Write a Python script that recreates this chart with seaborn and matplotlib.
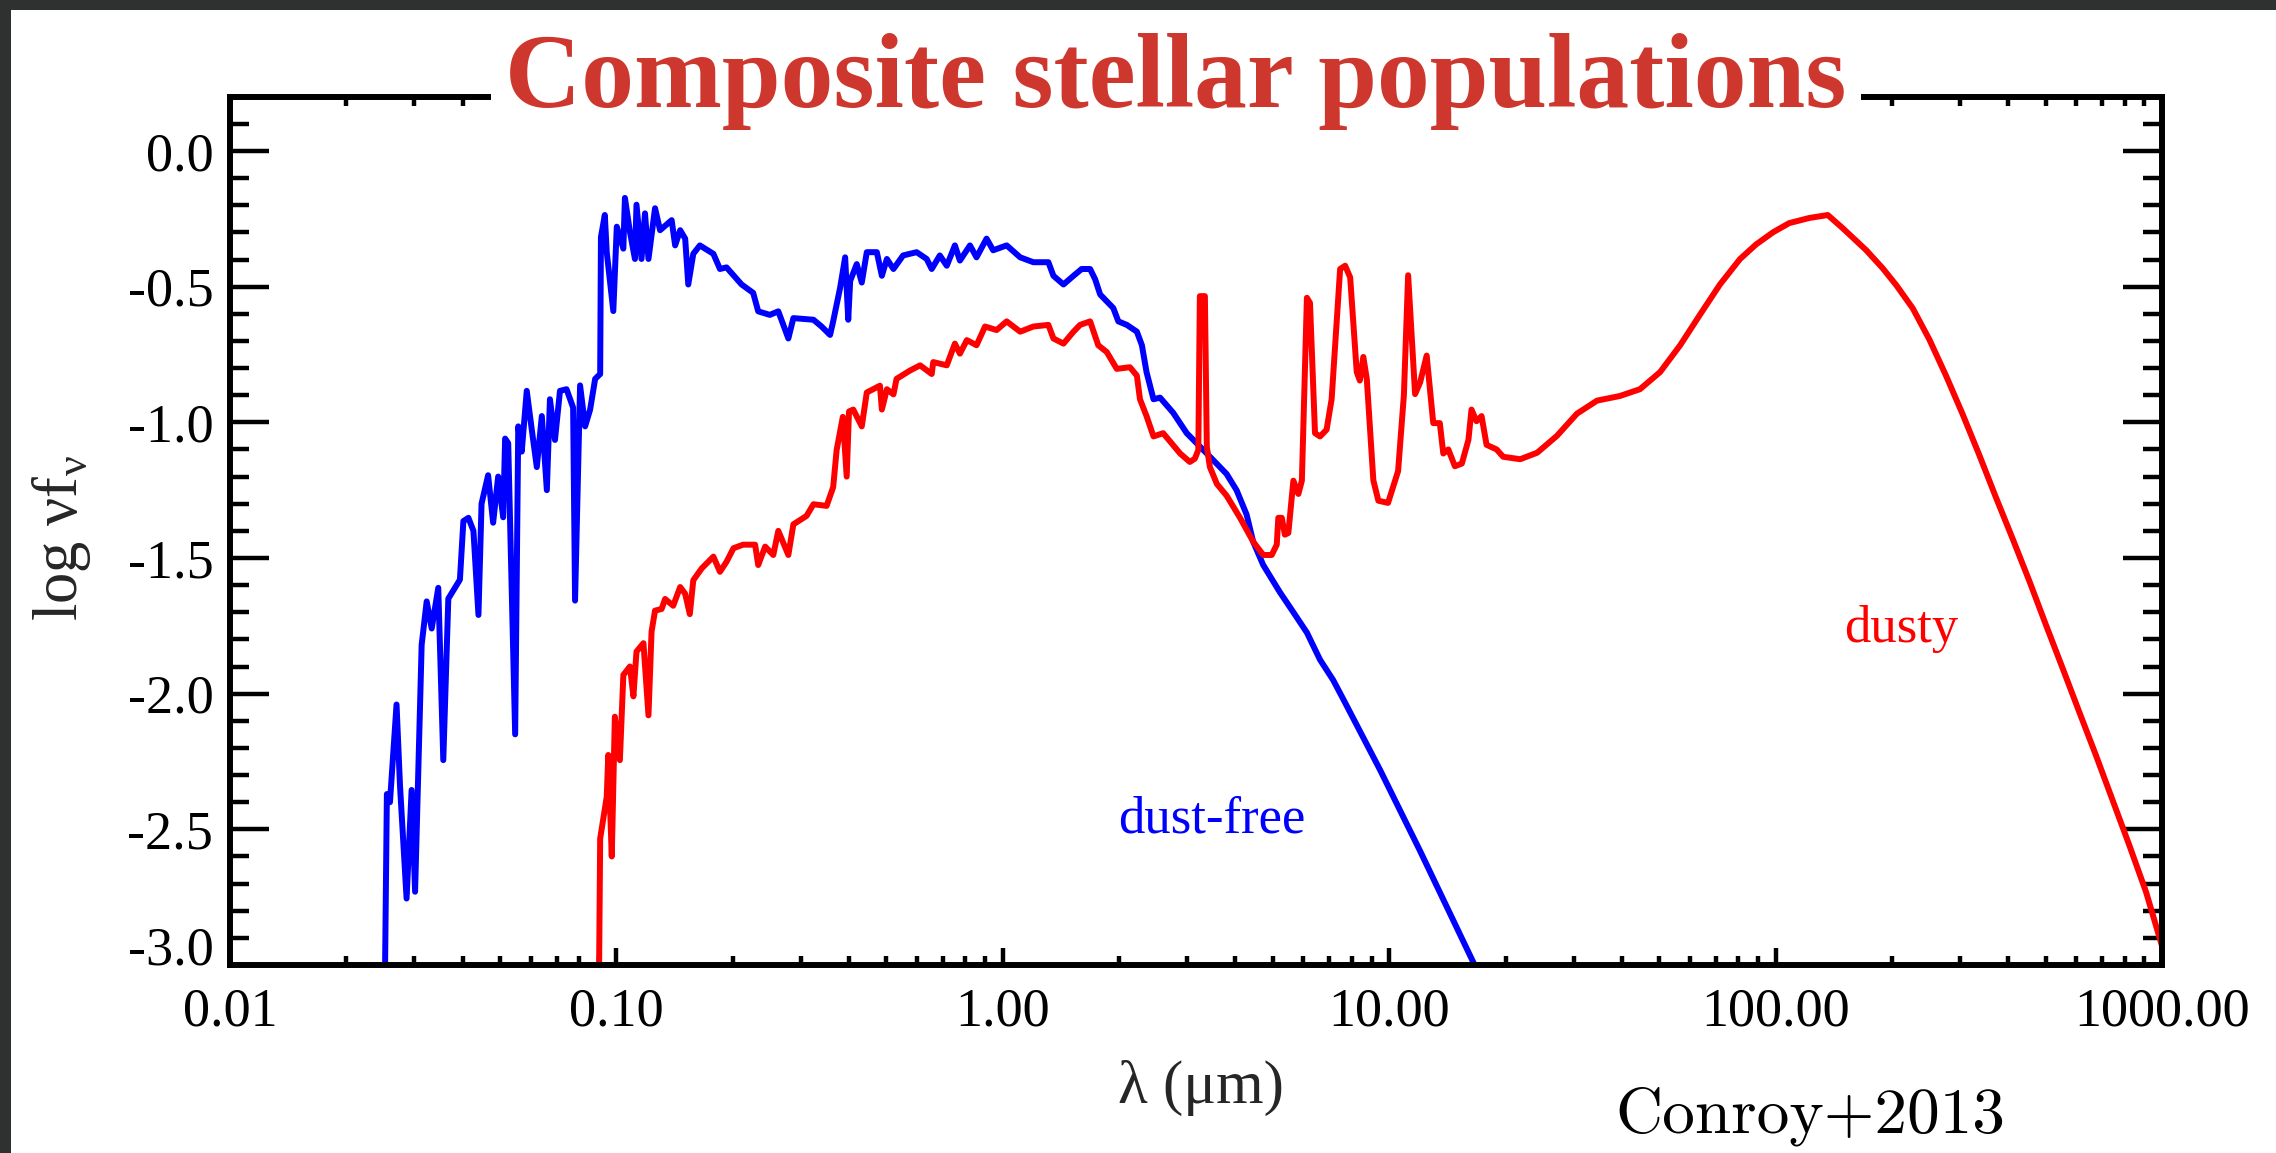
import numpy as np
import pandas as pd
import matplotlib
matplotlib.use("Agg")
import matplotlib.pyplot as plt
from matplotlib.patches import Rectangle
from matplotlib.ticker import LogLocator, MultipleLocator, NullFormatter
from matplotlib.transforms import ScaledTranslation
import seaborn as sns

# ---- spectra: log10(wavelength / um) and log(nu f_nu) ----
log_wave_dustfree = [
    -1.599, -1.594, -1.586, -1.569, -1.560, -1.543, -1.530, -1.521, -1.504, -1.491,
    -1.478, -1.461, -1.448, -1.435, -1.405, -1.396, -1.383, -1.370, -1.357, -1.349,
    -1.332, -1.319, -1.306, -1.293, -1.288, -1.280, -1.262, -1.254, -1.245, -1.232,
    -1.219, -1.206, -1.193, -1.180, -1.172, -1.159, -1.146, -1.129, -1.112, -1.107,
    -1.094, -1.081, -1.068, -1.055, -1.042, -1.040, -1.030, -1.025, -1.008, -0.999,
    -0.982, -0.978, -0.965, -0.952, -0.948, -0.935, -0.926, -0.917, -0.900, -0.887,
    -0.857, -0.848, -0.835, -0.822, -0.814, -0.801, -0.784, -0.749, -0.732, -0.715,
    -0.676, -0.646, -0.633, -0.603, -0.581, -0.555, -0.542, -0.490, -0.469, -0.447,
    -0.439, -0.421, -0.408, -0.400, -0.395, -0.378, -0.365, -0.352, -0.326, -0.313,
    -0.300, -0.283, -0.258, -0.223, -0.197, -0.184, -0.163, -0.145, -0.124, -0.111,
    -0.085, -0.068, -0.042, -0.025, 0.010, 0.045, 0.079, 0.118, 0.131, 0.157,
    0.183, 0.204, 0.226, 0.239, 0.252, 0.286, 0.299, 0.321, 0.347, 0.360,
    0.372, 0.390, 0.407, 0.441, 0.476, 0.528, 0.579, 0.605, 0.631, 0.648,
    0.674, 0.717, 0.752, 0.787, 0.821, 0.855, 0.881, 0.976, 1.080, 1.221, 1.240,
]
logf_dustfree = [
    -3.05, -2.37, -2.40, -2.04, -2.34, -2.755, -2.355, -2.73, -1.82, -1.66,
    -1.76, -1.61, -2.245, -1.65, -1.58, -1.364, -1.352, -1.40, -1.71, -1.30,
    -1.195, -1.37, -1.20, -1.35, -1.06, -1.077, -2.15, -1.015, -1.108, -0.884,
    -1.027, -1.165, -0.977, -1.25, -0.915, -1.065, -0.884, -0.878, -0.946, -1.657,
    -0.864, -1.015, -0.953, -0.84, -0.822, -0.317, -0.236, -0.373, -0.59, -0.279,
    -0.36, -0.173, -0.298, -0.398, -0.198, -0.398, -0.23, -0.398, -0.211, -0.292,
    -0.255, -0.348, -0.292, -0.323, -0.492, -0.379, -0.348, -0.379, -0.435, -0.429,
    -0.492, -0.523, -0.591, -0.604, -0.591, -0.691, -0.616, -0.622, -0.647, -0.678,
    -0.628, -0.504, -0.392, -0.622, -0.479, -0.417, -0.485, -0.373, -0.373, -0.46,
    -0.398, -0.435, -0.385, -0.373, -0.398, -0.435, -0.385, -0.423, -0.348, -0.404,
    -0.348, -0.392, -0.323, -0.366, -0.348, -0.392, -0.41, -0.41, -0.46, -0.492,
    -0.46, -0.435, -0.435, -0.473, -0.529, -0.579, -0.628, -0.641, -0.666, -0.716,
    -0.815, -0.915, -0.909, -0.965, -1.04, -1.115, -1.19, -1.25, -1.34, -1.44,
    -1.526, -1.626, -1.70, -1.775, -1.875, -1.95, -2.02, -2.28, -2.58, -3.0, -3.06,
]

log_wave_dusty = [
    -1.045, -1.042, -1.025, -1.021, -1.012, -1.004, -0.991, -0.982, -0.965, -0.956,
    -0.948, -0.930, -0.917, -0.909, -0.900, -0.883, -0.874, -0.853, -0.835, -0.822,
    -0.810, -0.801, -0.779, -0.749, -0.732, -0.715, -0.697, -0.672, -0.641, -0.633,
    -0.615, -0.594, -0.581, -0.555, -0.542, -0.508, -0.490, -0.456, -0.439, -0.430,
    -0.414, -0.404, -0.398, -0.387, -0.365, -0.352, -0.318, -0.313, -0.300, -0.283,
    -0.275, -0.240, -0.214, -0.184, -0.180, -0.145, -0.124, -0.111, -0.093, -0.068,
    -0.046, -0.016, 0.010, 0.045, 0.079, 0.118, 0.131, 0.157, 0.183, 0.200,
    0.226, 0.247, 0.269, 0.295, 0.329, 0.347, 0.355, 0.372, 0.390, 0.415,
    0.459, 0.484, 0.497, 0.506, 0.510, 0.523, 0.528, 0.536, 0.554, 0.579,
    0.614, 0.648, 0.674, 0.696, 0.709, 0.713, 0.722, 0.730, 0.739, 0.752,
    0.765, 0.774, 0.787, 0.795, 0.808, 0.821, 0.838, 0.851, 0.864, 0.873,
    0.886, 0.899, 0.916, 0.924, 0.933, 0.942, 0.959, 0.972, 0.997, 1.023,
    1.038, 1.049, 1.067, 1.080, 1.097, 1.114, 1.131, 1.140, 1.153, 1.170,
    1.188, 1.205, 1.213, 1.226, 1.239, 1.252, 1.278, 1.295, 1.339, 1.383,
    1.434, 1.486, 1.538, 1.597, 1.649, 1.701, 1.753, 1.804, 1.856, 1.908,
    1.949, 1.993, 2.035, 2.087, 2.135, 2.174, 2.234, 2.277, 2.312, 2.355,
    2.398, 2.441, 2.484, 2.527, 2.570, 2.614, 2.657, 2.700, 2.743, 2.786,
    2.829, 2.872, 2.915, 2.959, 3.000,
]
logf_dusty = [
    -3.05, -2.534, -2.38, -2.226, -2.60, -2.085, -2.245, -1.931, -1.90, -2.01,
    -1.845, -1.814, -2.08, -1.771, -1.694, -1.688, -1.651, -1.676, -1.607, -1.632,
    -1.707, -1.582, -1.538, -1.495, -1.551, -1.514, -1.464, -1.451, -1.451, -1.526,
    -1.458, -1.489, -1.40, -1.489, -1.376, -1.345, -1.302, -1.308, -1.239, -1.102,
    -0.98, -1.20, -0.96, -0.953, -1.015, -0.89, -0.865, -0.953, -0.878, -0.897,
    -0.84, -0.809, -0.79, -0.822, -0.778, -0.79, -0.71, -0.747, -0.697, -0.716,
    -0.647, -0.66, -0.628, -0.666, -0.647, -0.641, -0.691, -0.71, -0.666, -0.641,
    -0.628, -0.716, -0.741, -0.803, -0.797, -0.828, -0.915, -0.977, -1.052, -1.04,
    -1.115, -1.146, -1.134, -1.102, -0.535, -0.535, -1.09, -1.165, -1.227, -1.27,
    -1.352, -1.44, -1.489, -1.489, -1.451, -1.352, -1.352, -1.414, -1.408, -1.215,
    -1.264, -1.215, -0.541, -0.56, -1.04, -1.052, -1.027, -0.915, -0.628, -0.435,
    -0.423, -0.466, -0.815, -0.846, -0.759, -0.84, -1.214, -1.289, -1.297, -1.18,
    -0.9, -0.458, -0.896, -0.853, -0.754, -1.003, -1.003, -1.115, -1.10, -1.162,
    -1.152, -1.065, -0.953, -0.996, -0.977, -1.083, -1.10, -1.127, -1.136, -1.112,
    -1.05, -0.968, -0.92, -0.903, -0.878, -0.815, -0.716, -0.604, -0.492, -0.398,
    -0.345, -0.300, -0.266, -0.247, -0.236, -0.285, -0.365, -0.432, -0.494, -0.580,
    -0.695, -0.828, -0.970, -1.120, -1.276, -1.431, -1.586, -1.748, -1.907, -2.068,
    -2.227, -2.392, -2.557, -2.732, -2.93,
]

x_ticks = [0.01, 0.1, 1.0, 10.0, 100.0, 1000.0]
x_tick_labels = ["0.01", "0.10", "1.00", "10.00", "100.00", "1000.00"]
y_ticks = [0.0, -0.5, -1.0, -1.5, -2.0, -2.5, -3.0]
y_tick_labels = ["0.0", "-0.5", "-1.0", "-1.5", "-2.0", "-2.5", "-3.0"]

BLUE = "#0000ff"
RED = "#ff0000"
TITLE_RED = "#cd372d"

sns.set_style("ticks")
plt.rcParams["font.family"] = ["Liberation Serif", "DejaVu Serif"]

W, H = 2276, 1153
fig = plt.figure(figsize=(W / 100, H / 100), dpi=100, facecolor="white")

# axes box in pixel terms: x 230..2162, y 96.7..965 (from top)
ax = fig.add_axes([230 / W, 1 - 965 / H, 1932 / W, (965 - 96.7) / H])
ax.set_facecolor("white")
ax.set_xscale("log")

spectra = pd.concat([
    pd.DataFrame({"wave": 10 ** np.array(log_wave_dustfree), "flux": logf_dustfree,
                  "model": "dust-free"}),
    pd.DataFrame({"wave": 10 ** np.array(log_wave_dusty), "flux": logf_dusty,
                  "model": "dusty"}),
])

for name, color in [("dust-free", BLUE), ("dusty", RED)]:
    sns.lineplot(data=spectra[spectra["model"] == name], x="wave", y="flux",
                 ax=ax, color=color, linewidth=4.3, sort=False, estimator=None,
                 solid_joinstyle="round")

ax.set_xlim(0.01, 1000)
ax.set_ylim(-3.0, 0.2)

ax.set_xticks(x_ticks, labels=x_tick_labels)
ax.xaxis.set_minor_locator(LogLocator(base=10, subs=np.arange(2, 10)))
ax.xaxis.set_minor_formatter(NullFormatter())
ax.set_yticks(y_ticks, labels=y_tick_labels)
ax.yaxis.set_minor_locator(MultipleLocator(0.1))

for side in ["left", "right", "top", "bottom"]:
    ax.spines[side].set_visible(True)
    ax.spines[side].set_color("black")
    ax.spines[side].set_linewidth(4.3)

ax.tick_params(which="both", direction="in", top=True, right=True,
               color="black", width=3.2, labelsize=39, labelcolor="black")
ax.tick_params(axis="x", which="major", length=12, pad=16)
ax.tick_params(axis="x", which="minor", length=6.5)
ax.tick_params(axis="y", which="major", length=28, pad=12)
ax.tick_params(axis="y", which="minor", length=14)

for lab in ax.get_yticklabels():
    if lab.get_text() == "-3.0":
        lab.set_transform(lab.get_transform()
                          + ScaledTranslation(0, 14 / 72, fig.dpi_scale_trans))

ax.set_xlabel("λ (μm)", fontsize=44, va="baseline")
ax.xaxis.set_label_coords((1201 - 230) / 1932, (965 - 1103) / 868.3)
ax.set_ylabel("log νf$_{\\mathregular{ν}}$", fontsize=45, va="center")
ax.yaxis.set_label_coords((61 - 230) / 1932, (965 - 538) / 868.3)

# curve labels
ax.text(3.48, -2.51, "dust-free", color=BLUE, fontsize=38,
        ha="center", va="baseline")
ax.text(211, -1.809, "dusty", color=RED, fontsize=38,
        ha="center", va="baseline")

# heading sitting on the top frame line
fig.text(1176 / W, 1 - 107 / H, "Composite stellar populations",
         color=TITLE_RED, fontsize=76, fontweight="bold",
         family="Liberation Serif", ha="center", va="baseline",
         bbox=dict(boxstyle="square,pad=0.14", fc="white", ec="none"))

fig.text(1810 / W, 1 - 1133 / H, "Conroy+2013", color="black", fontsize=47,
         family=["cmr10", "DejaVu Serif"], ha="center", va="baseline")

# dark frame strips along the top and left edges
fig.patches.append(Rectangle((0, 1 - 10 / H), 1, 10 / H, transform=fig.transFigure,
                             facecolor="#2f3030", edgecolor="none", zorder=5))
fig.patches.append(Rectangle((0, 0), 11 / W, 1, transform=fig.transFigure,
                             facecolor="#2f3030", edgecolor="none", zorder=5))

fig.savefig("out.png", dpi=100, facecolor="white")
